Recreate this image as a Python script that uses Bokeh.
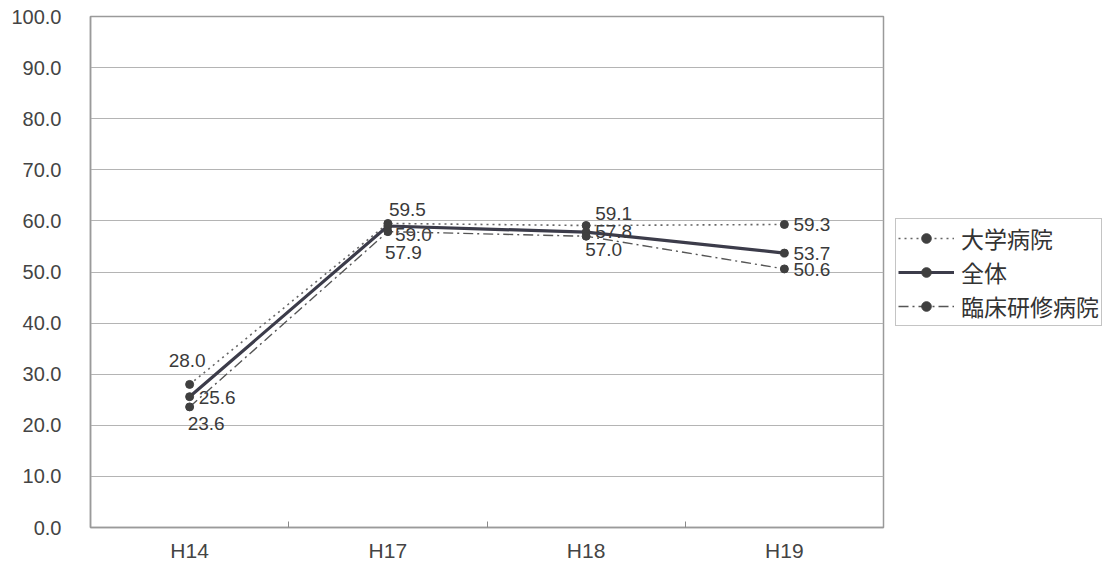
from bokeh.plotting import figure
from bokeh.models import (ColumnDataSource, Range1d, FixedTicker, Legend, LegendItem)
from bokeh.embed import file_html
from bokeh.resources import INLINE
from bokeh.core.properties import value

categories = ["H14", "H17", "H18", "H19"]
univ = [28.0, 59.5, 59.1, 59.3]      # 大学病院
total = [25.6, 59.0, 57.8, 53.7]     # 全体
clinical = [23.6, 57.9, 57.0, 50.6]  # 臨床研修病院
y_ticks = [0, 10, 20, 30, 40, 50, 60, 70, 80, 90, 100]

# label placement offsets in screen px (layout only)
univ_dx, univ_dy = [-21, 1, 9, 9], [-24, -14, -12, 0]
total_dx, total_dy = [9, 7, 9, 9], [1, 8, -1, 0]
clin_dx, clin_dy = [-2, -3, -1, 9], [17, 21, 13, 1]

xs = [i + 0.5 for i in range(len(categories))]

p = figure(frame_width=793, frame_height=511, output_backend="svg", toolbar_location=None,
           x_range=Range1d(0, len(categories)), y_range=Range1d(0, 100),
           min_border_left=90, min_border_right=4, min_border_top=16,
           min_border_bottom=43)
p.background_fill_color = "white"
p.outline_line_color = "#9a9a9a"
p.outline_line_width = 1.5

p.xgrid.grid_line_color = None
p.ygrid.grid_line_color = "#b4b4b4"
p.ygrid.grid_line_width = 1
p.ygrid.ticker = FixedTicker(ticks=y_ticks)

p.yaxis.ticker = FixedTicker(ticks=y_ticks)
p.yaxis.major_label_overrides = {t: f"{t:.1f}" for t in y_ticks}
p.yaxis.major_tick_line_color = None
p.yaxis.minor_tick_line_color = None
p.yaxis.axis_line_color = "#9a9a9a"
p.yaxis.axis_line_width = 1.5
p.yaxis.major_label_standoff = 23
p.yaxis.major_label_text_font = "Liberation Sans"
p.yaxis.major_label_text_font_size = "20px"
p.yaxis.major_label_text_color = "#444444"

p.xaxis.ticker = FixedTicker(ticks=xs, minor_ticks=[i for i in range(1, len(categories))])
p.xaxis.major_label_overrides = {x: c for x, c in zip(xs, categories)}
p.xaxis.major_tick_line_color = None
p.xaxis.minor_tick_in = 6
p.xaxis.minor_tick_out = 0
p.xaxis.minor_tick_line_color = "#8a8a8a"
p.xaxis.axis_line_color = "#9a9a9a"
p.xaxis.axis_line_width = 1.5
p.xaxis.major_label_standoff = 5
p.xaxis.major_label_text_font = "Liberation Sans"
p.xaxis.major_label_text_font_size = "21px"
p.xaxis.major_label_text_color = "#444444"

series = [
    ("大学病院", univ, dict(line_color="#666666", line_width=1.6, line_dash="2 4"), univ_dx, univ_dy),
    ("全体", total, dict(line_color="#3c3c4a", line_width=3.2), total_dx, total_dy),
    ("臨床研修病院", clinical, dict(line_color="#555555", line_width=1.4, line_dash="10 4 2 4"), clin_dx, clin_dy),
]

items = []
for name, vals, style, dx, dy in series:
    src = ColumnDataSource(dict(x=xs, y=vals, lab=[f"{v:.1f}" for v in vals], dx=dx, dy=dy))
    r1 = p.line("x", "y", source=src, **style)
    r2 = p.scatter("x", "y", source=src, size=8, marker="circle",
                   fill_color="#3f3f3f", line_color="#3f3f3f")
    items.append(LegendItem(label=name, renderers=[r1, r2]))
    p.text("x", "y", text="lab", source=src, x_offset="dx", y_offset="dy",
           text_align="left", text_baseline="middle",
           text_font=value("Liberation Sans"), text_font_size="19px",
           text_color="#3a3a3a")

legend = Legend(items=items, location="center_left")
legend.label_text_font = "Noto Sans CJK JP"
legend.label_text_font_size = "23px"
legend.label_text_color = "#333333"
legend.glyph_width = 56
legend.glyph_height = 24
legend.label_height = 24
legend.label_standoff = 7
legend.spacing = 0
legend.padding = 2
legend.margin = 12
legend.border_line_color = "#8a8a8a"
legend.border_line_width = 1.2
legend.background_fill_alpha = 1
p.add_layout(legend, "right")

open("out.html", "w").write(file_html(p, INLINE))
